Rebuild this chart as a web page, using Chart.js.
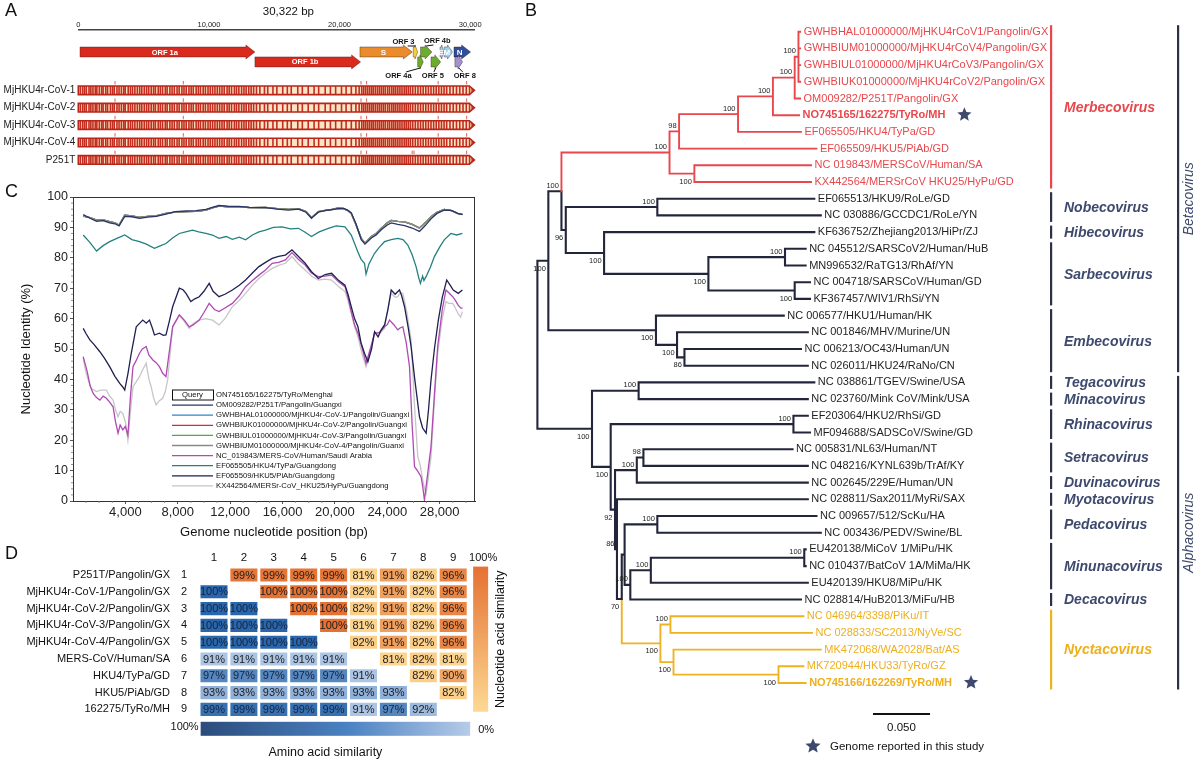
<!DOCTYPE html>
<html lang="en"><head><meta charset="utf-8"><title>Figure</title>
<script src="https://cdn.jsdelivr.net/npm/chart.js@4.4.1/dist/chart.umd.min.js"></script>
<style>
html,body{margin:0;padding:0;background:#fff;}
#wrap{position:relative;width:1200px;height:762px;overflow:hidden;background:#fff;}
canvas{position:absolute;}
</style></head>
<body>
<div id="wrap">
<canvas id="cA" width="520" height="175" style="left:0;top:0"></canvas>
<canvas id="cC" width="520" height="365" style="left:0;top:180px"></canvas>
<canvas id="cD" width="520" height="217" style="left:0;top:545px"></canvas>
<canvas id="cB" width="680" height="762" style="left:520px;top:0"></canvas>
</div>
<script>
const FONT = '"Liberation Sans", Arial, Helvetica, sans-serif';

/* ================= PANEL A DATA ================= */
const genomeLength = 30322;
const rulerTicks = [0, 10000, 20000, 30000];
const geneNames  = ['ORF 1a','ORF 1b','S','ORF 3','ORF 4a','ORF 4b','ORF 5','E','M','N','ORF 8'];
const geneStart  = [130, 13520, 21560, 25640, 25980, 26200, 27000, 27690, 28010, 28760, 28830];
const geneEnd    = [13520, 21610, 25570, 25980, 26410, 27070, 27740, 27990, 28650, 30030, 29420];
const geneLane   = [1, 1.57, 1, 1, 1.57, 1, 1.57, 1, 1, 1, 1.57];
const geneColors = ['#d92a1d','#d92a1d','#ea8b2c','#f5d03a','#6cad2f','#6cad2f','#6cad2f','#9dd2ee','#9dd2ee','#2f4e9e','#a191cf'];
const genomeNames = ['MjHKU4r-CoV-1','MjHKU4r-CoV-2','MjHKU4r-CoV-3','MjHKU4r-CoV-4','P251T'];
const genomeLane  = [3.2, 4.2, 5.2, 6.2, 7.2];
const markerSites = [2810, 8040, 21640, 22070, 27550, 29730];
const p251tExtraMarkers = [25560, 25700];
const variantSites = [150,330,470,610,820,960,1120,1300,1420,1610,1790,1900,2100,2240,2460,2620,2750,2960,3120,3300,3480,3590,3820,3990,4150,4330,4520,4700,4860,5050,5230,5390,5580,5760,5900,6120,6280,6450,6660,6800,7010,7180,7350,7560,7720,7930,8090,8260,8470,8640,8800,9020,9190,9350,9560,9730,9930,10100,10280,10460,10640,10820,11000,11170,11390,11550,11730,11950,12110,12290,12500,12680,12850,13050,13230,13420,13640,13900,14250,14500,14900,15200,15650,16000,16300,16800,17150,17600,18050,18400,18900,19300,19700,20150,20500,20900,21250,21500,21700,21850,22000,22150,22300,22450,22580,22740,22900,23050,23200,23350,23500,23680,23830,24000,24150,24300,24460,24620,24780,24950,25100,25260,25420,25600,25800,26000,26200,26400,26600,26800,27000,27200,27400,27600,27800,28000,28200,28450,28700,28950,29200,29450,29700,29950,30150];

/* ================= PANEL C DATA ================= */
const mjhku4rPts = [[780,93.7],[1300,93.2],[1800,92.4],[2300,92.5],[2800,91.9],[3200,91.5],[3520,90.8],[3950,94],[4500,93.8],[5080,93.3],[5700,93.6],[6350,93.8],[7100,94.6],[7800,95],[8630,95.2],[9400,95.3],[10150,95.7],[10700,96.5],[11150,97],[11900,96.8],[12670,96.8],[13500,96.5],[14700,96.6],[15600,96.2],[16460,95.9],[17220,96.2],[17800,95.2],[18210,93.2],[18740,95.2],[19250,95.6],[19750,95.9],[20200,96.3],[20640,96.2],[21000,95.5],[21250,94.6],[21600,91],[22010,86.4],[22300,84.8],[22780,87],[23150,88],[23540,89.7],[24000,91.5],[24300,92.3],[24800,92],[25320,91.8],[25900,91],[26460,89.8],[26900,91.5],[27340,93.5],[27800,95],[28350,95.9],[28900,95.5],[29400,94.5],[29740,94.3]];
const p251tPts = [[780,94.2],[1300,93.0],[1800,92.0],[2300,92.2],[2800,91.5],[3200,91.2],[3520,90.5],[3950,93.6],[4500,93.5],[5080,93.0],[5700,93.4],[6350,93.6],[7100,94.4],[7800,95.2],[8630,95.4],[9400,95.5],[10150,95.9],[10700,96.7],[11150,97.2],[11900,96.9],[12670,96.9],[13500,96.6],[14700,96.5],[15600,96.0],[16460,95.7],[17220,96.0],[17800,95.0],[18210,93.0],[18740,95.0],[19250,95.5],[19750,95.8],[20200,96.2],[20640,96.3],[21000,95.6],[21250,94.8],[21600,91.3],[22010,86.0],[22300,84.5],[22780,86.5],[23150,87.5],[23540,89.2],[24000,90.8],[24300,91.5],[24800,91.0],[25320,90.6],[25900,89.8],[26460,88.7],[26900,90.6],[27340,92.8],[27800,94.6],[28350,95.7],[28900,95.6],[29400,94.6],[29740,94.2]];
const hku4Pts = [[780,87.5],[1300,85],[1800,82.2],[2300,84],[2800,85.3],[3400,86.5],[3950,87.5],[4500,86],[5080,85.3],[5600,84.5],[6220,83.1],[6700,84],[7100,84.7],[7600,86.5],[8120,88],[8600,88.5],[9130,89.1],[9600,88.5],[10150,88],[10650,87.5],[11150,86.4],[11700,87],[12170,86.1],[12700,86.8],[13180,85.9],[13700,87.5],[14200,88.5],[14700,89.1],[15300,90],[15960,90.2],[16600,89.5],[17220,89.7],[17700,88.5],[18210,87],[18800,88.5],[19500,89.7],[20100,90.5],[20770,90.2],[21250,87.5],[21750,82],[22000,79.5],[22260,78.2],[22380,74.6],[22600,78],[23030,81.5],[23400,83.5],[23790,85.3],[24300,86],[24800,86.4],[25200,86],[25570,84.2],[25900,81],[26200,77.1],[26400,73.5],[26530,71.6],[26700,74],[26800,72.5],[26960,73.8],[27300,77],[27600,80.4],[28000,83.5],[28350,85.9],[28860,88],[29300,87.5],[29740,88]];
const hku5Pts = [[780,56.8],[1000,55],[1290,53],[1600,51.5],[2050,49.1],[2400,47],[2800,44.2],[3200,41],[3570,38.7],[3800,37.5],[3950,36.5],[4200,42],[4450,48.6],[4830,57.3],[5100,58.5],[5330,59.5],[5600,58.5],[5840,59.5],[6050,57],[6220,54.6],[6600,55.2],[6900,54.5],[7100,54.6],[7350,59],[7610,63.9],[8120,70],[8400,69.5],[8630,68.3],[9000,65.6],[9300,66.5],[9640,67.2],[10000,69],[10400,71.6],[10700,69],[11150,67.2],[11600,68],[12170,69.4],[12700,71],[13180,72.7],[13700,75],[14200,77.1],[14700,78.5],[15210,79.8],[15700,80.5],[16220,80.9],[16720,82.6],[17200,80.5],[17730,78.2],[18200,75.5],[18740,73.2],[19250,74.5],[19750,74.9],[20300,72.5],[20770,71],[21000,68],[21250,63.9],[21500,60],[21760,57.3],[22000,52],[22260,48.6],[22520,45.8],[22800,50],[23030,55.7],[23300,54],[23540,56.3],[23800,58],[24040,62.8],[24300,69.4],[24600,68],[24930,69.4],[25100,67.5],[25320,63.9],[25600,57],[25820,50.8],[26100,40],[26460,27.7],[26700,24],[26970,22.3],[27150,30],[27340,39.8],[27600,50],[27900,59.5],[28200,67],[28540,72.7],[28800,71],[29040,69.4],[29420,68.3],[29740,69.4]];
const mersPts = [[780,47.5],[1090,42.5],[1300,38],[1540,35.4],[1800,34],[2050,33.2],[2300,34.5],[2550,33.8],[2800,32.5],[3060,31],[3250,26],[3440,22.3],[3600,25],[3800,23.4],[4000,24.5],[4190,21.7],[4400,35],[4580,44.2],[4800,46],[5080,48.6],[5300,50],[5590,50.8],[5800,48],[6100,46.4],[6350,45.5],[6600,44.2],[6850,42],[7100,40.9],[7350,49],[7610,57.3],[8120,61.2],[8500,59.5],[8880,57.3],[9200,58],[9640,59.5],[10000,62],[10400,65],[10800,63],[11150,62.3],[11600,63.5],[12170,65],[12700,67.5],[13180,70.5],[13700,72.5],[14200,74.3],[14700,76],[15210,78.2],[15700,78.5],[16220,79.3],[16720,81.7],[17200,79.5],[17730,77.6],[18200,75],[18740,73.8],[19250,74],[19750,74.3],[20300,72],[20770,70.5],[21000,67],[21250,62.3],[21500,58],[21760,55.2],[22100,50],[22380,45.3],[22700,50],[23030,55.2],[23400,55.5],[23790,57.3],[24000,58],[24170,59.5],[24500,58],[24800,56.3],[25000,57],[25190,57.3],[25450,52],[25700,44.2],[25900,25],[26080,11.3],[26300,10],[26580,8],[26700,5],[26840,0.3],[27000,6],[27340,17.9],[27600,35],[27850,50.8],[28200,63],[28480,69.4],[28700,68.5],[29000,67.2],[29200,66],[29400,64.5],[29600,63.5],[29740,63.4]];
const hku25Pts = [[780,47],[950,43],[1160,39.8],[1400,37],[1800,36],[2100,36.5],[2550,36.5],[2800,34.5],[3060,33.2],[3250,30],[3440,27.7],[3600,29.5],[3800,28.8],[4000,26],[4190,20],[4400,30],[4580,37.6],[4800,39],[5080,40.9],[5300,43],[5590,45.3],[5800,40],[5970,37.6],[6150,34],[6350,31.6],[6600,33],[6850,33.8],[7050,36],[7230,39.8],[7450,50],[7610,57.3],[8120,61.2],[8500,59],[8880,56.8],[9200,58.5],[9640,59.5],[10100,60],[10650,59.5],[11150,57.9],[11600,60],[12170,63.9],[12700,66],[13180,68.3],[13700,71],[14200,73.2],[14700,75],[15210,76.5],[15700,77.5],[16220,78.2],[16720,80.4],[17200,78],[17730,76],[18200,74],[18740,72.7],[19250,73],[19750,72.7],[20300,70.5],[20770,68.9],[21000,66],[21250,61.7],[21500,57.5],[21760,54],[22100,48],[22380,44.2],[22700,49],[23030,55.2],[23400,55],[23790,56.8],[24000,62],[24300,68.3],[24600,67],[24800,67.2],[25000,68.5],[25190,68.3],[25500,62],[25820,53],[26100,30],[26330,14.6],[26500,12],[26710,6.9],[26850,4],[26970,2.5],[27150,8],[27340,14.6],[27600,33],[27850,48.6],[28200,60],[28480,65.6],[28700,65],[29000,65],[29200,63.5],[29400,61.7],[29600,60.5],[29740,62.3]];
const yTicksC = [0,10,20,30,40,50,60,70,80,90,100];
const xTicksC = [4000,8000,12000,16000,20000,24000,28000];

/* ================= PANEL D DATA ================= */
const matrixRowNames = ['P251T/Pangolin/GX','MjHKU4r-CoV-1/Pangolin/GX','MjHKU4r-CoV-2/Pangolin/GX','MjHKU4r-CoV-3/Pangolin/GX','MjHKU4r-CoV-4/Pangolin/GX','MERS-CoV/Human/SA','HKU4/TyPa/GD','HKU5/PiAb/GD','162275/TyRo/MH'];
const matrixIndex = ['1','2','3','4','5','6','7','8','9'];
// upper triangle: nucleotide similarity; lower triangle: amino acid similarity
const similarity = [
  [null,99,99,99,99,81,91,82,96],
  [100,null,100,100,100,82,91,82,96],
  [100,100,null,100,100,82,91,82,96],
  [100,100,100,null,100,81,91,82,96],
  [100,100,100,100,null,82,91,82,96],
  [91,91,91,91,91,null,81,82,81],
  [97,97,97,97,97,91,null,82,90],
  [93,93,93,93,93,93,93,null,82],
  [99,99,99,99,99,91,97,92,null]
];

/* ================= PANEL B DATA ================= */
const leafNames = ['GWHBHAL01000000/MjHKU4rCoV1/Pangolin/GX','GWHBIUM01000000/MjHKU4rCoV4/Pangolin/GX','GWHBIUL01000000/MjHKU4rCoV3/Pangolin/GX','GWHBIUK01000000/MjHKU4rCoV2/Pangolin/GX','OM009282/P251T/Pangolin/GX','NO745165/162275/TyRo/MH','EF065505/HKU4/TyPa/GD','EF065509/HKU5/PiAb/GD','NC 019843/MERSCoV/Human/SA','KX442564/MERSrCoV HKU25/HyPu/GD',
 'EF065513/HKU9/RoLe/GD','NC 030886/GCCDC1/RoLe/YN','KF636752/Zhejiang2013/HiPr/ZJ','NC 045512/SARSCoV2/Human/HuB','MN996532/RaTG13/RhAf/YN','NC 004718/SARSCoV/Human/GD','KF367457/WIV1/RhSi/YN','NC 006577/HKU1/Human/HK','NC 001846/MHV/Murine/UN','NC 006213/OC43/Human/UN','NC 026011/HKU24/RaNo/CN',
 'NC 038861/TGEV/Swine/USA','NC 023760/Mink CoV/Mink/USA','EF203064/HKU2/RhSi/GD','MF094688/SADSCoV/Swine/GD','NC 005831/NL63/Human/NT','NC 048216/KYNL639b/TrAf/KY','NC 002645/229E/Human/UN','NC 028811/Sax2011/MyRi/SAX','NC 009657/512/ScKu/HA','NC 003436/PEDV/Swine/BL','EU420138/MiCoV 1/MiPu/HK','NC 010437/BatCoV 1A/MiMa/HK','EU420139/HKU8/MiPu/HK','NC 028814/HuB2013/MiFu/HB',
 'NC 046964/3398/PiKu/IT','NC 028833/SC2013/NyVe/SC','MK472068/WA2028/Bat/AS','MK720944/HKU33/TyRo/GZ','NO745166/162269/TyRo/MH'];
const leafDepth = [0.2305,0.2305,0.2305,0.2305,0.2304,0.2295,0.2312,0.2448,0.2400,0.2400,0.2429,0.2486,0.2429,0.2353,0.2353,0.2391,0.2391,0.2161,0.2372,0.2312,0.2372,0.2429,0.2372,0.2372,0.2391,0.2238,0.2372,0.2372,0.2372,0.2448,0.2486,0.2353,0.2353,0.2372,0.2312,0.2333,0.2409,0.2486,0.2333,0.2353];
const leafGroup = ['r','r','r','r','r','r','r','r','r','r','k','k','k','k','k','k','k','k','k','k','k','k','k','k','k','k','k','k','k','k','k','k','k','k','k','y','y','y','y','y'];
const leafParent = ['A','A','A','A','B','C','D','E','F','F','I','I','K','M','M','N','N','O','P','Q','Q','T','T','W','W','Y','Y','Z','AH','AE','AE','X','X','AC','AD','NA','NA','NB2','NB','NB'];
const studyLeaves = [5, 39];
const nodeIds      = ['S','R','H','G','E','D','C','B','A','F','J','I','K','L','M','N','O','P','Q','U','T','V','W','AG','Z','Y','AH','AI','AF','AE','AD','AC','X','NC','NA','NB2','NB'];
const nodeParent   = [null,'S','R','H','G','E','D','C','B','G','H','J','J','K','L','L','R','O','P','S','U','U','V','V','AG','Z','AG','AH','AI','AF','AF','AD','AC','AI','NC','NC','NB2'];
const nodeDepth    = [0,0.0096,0.0211,0.1159,0.1243,0.176,0.2066,0.2257,0.229,0.1377,0.0249,0.1052,0.0585,0.15,0.2172,0.2257,0.104,0.1225,0.129,0.0479,0.0888,0.0643,0.2246,0.0681,0.0872,0.093,0.0698,0.074,0.0765,0.1052,0.0815,0.0995,0.2341,0.1079,0.1167,0.1194,0.2115];
const nodeSupport  = [null,100,100,100,98,100,100,100,100,100,96,100,100,100,100,100,100,100,86,100,100,100,100,92,100,98,86,70,null,100,100,100,100,100,100,100,100];
const nodeSupportPos=[null,'b','a','a','a','a','a','a','a','b','b','a','b','b','a','b','b','b','b','b','a','b','a','b','a','a','a','b',null,'a','a','a','a','b','a','b','b'];
const cladeNames = ['Merbecovirus','Nobecovirus','Hibecovirus','Sarbecovirus','Embecovirus','Tegacovirus','Minacovirus','Rhinacovirus','Setracovirus','Duvinacovirus','Myotacovirus','Pedacovirus','Minunacovirus','Decacovirus','Nyctacovirus'];
const cladeFirst = [0,10,12,13,17,21,22,23,25,27,28,29,31,34,35];
const cladeLast  = [9,11,12,16,20,21,22,24,26,27,28,30,33,34,39];
const cladeGroup = ['r','k','k','k','k','k','k','k','k','k','k','k','k','k','y'];
const genusNames = ['Betacovirus','Alphacovirus'];
const genusFirst = [0, 21];
const genusLast  = [20, 39];
const scaleBarLength = 0.05;

/* ================= STYLE ================= */
const TREE_COL = {r:'#e8474c', k:'#23263a', y:'#efb322'};
const TEXT_COL = {r:'#e8474c', k:'#1f1f1f', y:'#eeaf1c'};
const CLADE_COL = {r:'#e8474c', k:'#3e4a6d', y:'#eeaf1c'};
const SLATE = '#3e4a6d';

Chart.defaults.font.family = FONT;
Chart.defaults.color = '#222';
Chart.defaults.animation = false;
Chart.defaults.plugins.legend.display = false;
Chart.defaults.plugins.tooltip.enabled = false;

function panelLetter(ctx, t, x, y){
  ctx.save(); ctx.font = '18px ' + FONT; ctx.fillStyle = '#111'; ctx.textAlign='left'; ctx.textBaseline='top';
  ctx.fillText(t, x, y); ctx.restore();
}
function star(ctx, cx, cy, r, color){
  ctx.save(); ctx.beginPath();
  for(let k=0;k<10;k++){
    const ang = -Math.PI/2 + k*Math.PI/5;
    const rr = k%2===0 ? r : r*0.45;
    const px = cx + rr*Math.cos(ang), py = cy + rr*Math.sin(ang);
    if(k===0) ctx.moveTo(px,py); else ctx.lineTo(px,py);
  }
  ctx.closePath(); ctx.fillStyle=color; ctx.fill(); ctx.restore();
}
function mix(c1, c2, t){
  t = Math.max(0, Math.min(1, t));
  return 'rgb(' + c1.map((v,i)=>Math.round(v + (c2[i]-v)*t)).join(',') + ')';
}

/* ================= PANEL A CHART ================= */
const calloutOffsets = {'ORF 3':[-12,-10], 'ORF 4b':[11,-11], 'ORF 4a':[-22,14], 'ORF 5':[-3,14], 'ORF 8':[6,14]};
const insideLabels = ['ORF 1a','ORF 1b','S','E','M','N'];
const panelAPlugin = {
  id:'panelA',
  afterDraw(chart){
    const {ctx, scales:{x, y}} = chart;
    panelLetter(ctx, 'A', 5, 2);
    ctx.save();
    ctx.font = '11.5px ' + FONT; ctx.fillStyle='#111'; ctx.textAlign='center'; ctx.textBaseline='middle';
    ctx.fillText(genomeLength.toLocaleString('en-US') + ' bp', (x.getPixelForValue(0)+x.getPixelForValue(genomeLength))/2 + 12, 12);
    geneNames.forEach((g, i)=>{
      const x0 = x.getPixelForValue(geneStart[i]), x1 = x.getPixelForValue(geneEnd[i]);
      const yc = y.getPixelForValue(geneLane[i]);
      const len = x1 - x0, head = Math.min(9, len*0.6), bh = 5, hh = 7;
      ctx.beginPath();
      ctx.moveTo(x0, yc-bh); ctx.lineTo(x1-head, yc-bh); ctx.lineTo(x1-head, yc-hh); ctx.lineTo(x1, yc);
      ctx.lineTo(x1-head, yc+hh); ctx.lineTo(x1-head, yc+bh); ctx.lineTo(x0, yc+bh); ctx.closePath();
      ctx.fillStyle = geneColors[i]; ctx.fill();
      ctx.lineWidth = 0.7; ctx.strokeStyle = 'rgba(60,20,10,0.55)'; ctx.stroke();
      if(insideLabels.includes(g)){
        ctx.font = 'bold ' + (g.length>1?7.5:8) + 'px ' + FONT; ctx.fillStyle = '#fff'; ctx.textAlign='center'; ctx.textBaseline='middle';
        ctx.fillText(g, x0 + (len-head*0.6)/2, yc+0.5);
      } else if(calloutOffsets[g]){
        const [dx, dy] = calloutOffsets[g];
        const gx = (x0+x1)/2, tx = gx + dx, ty = yc + dy;
        ctx.font = 'bold 7.5px ' + FONT; ctx.fillStyle = '#111'; ctx.textAlign='center'; ctx.textBaseline='middle';
        ctx.fillText(g, tx, ty);
        ctx.beginPath(); ctx.lineWidth = 1; ctx.strokeStyle = '#111';
        const sgn = dy < 0 ? 1 : -1;
        ctx.moveTo(tx + (gx-tx)*0.35, ty + sgn*4); ctx.lineTo(gx, yc - sgn*6); ctx.stroke();
      }
    });
    genomeNames.forEach((nm, r)=>{
      const yc = y.getPixelForValue(genomeLane[r]);
      const x0 = x.getPixelForValue(0), x1 = x.getPixelForValue(genomeLength);
      ctx.font = '10px ' + FONT; ctx.fillStyle = '#222'; ctx.textAlign='right'; ctx.textBaseline='middle';
      ctx.fillText(nm, x0 - 3, yc);
      const h = 4.3, tip = 5;
      ctx.beginPath();
      ctx.moveTo(x0, yc-h); ctx.lineTo(x1-tip, yc-h); ctx.lineTo(x1, yc); ctx.lineTo(x1-tip, yc+h); ctx.lineTo(x0, yc+h); ctx.closePath();
      ctx.fillStyle = '#fbe5c6'; ctx.fill();
      ctx.save(); ctx.clip();
      ctx.fillStyle = '#c22f20';
      variantSites.forEach(s=>{ ctx.fillRect(x.getPixelForValue(s)-0.8, yc-h, 1.6, 2*h); });
      ctx.restore();
      ctx.lineWidth = 1.6; ctx.strokeStyle = '#b8261a'; ctx.stroke();
      const marks = r === genomeNames.length-1 ? markerSites.concat(p251tExtraMarkers) : markerSites;
      ctx.strokeStyle = '#d2675a'; ctx.lineWidth = 1;
      marks.forEach(s=>{ const px = x.getPixelForValue(s); ctx.beginPath(); ctx.moveTo(px, yc-h-5); ctx.lineTo(px, yc-h-1.5); ctx.stroke(); });
    });
    ctx.restore();
  }
};
new Chart(document.getElementById('cA'), {
  type:'bar',
  data:{datasets:[]},
  options:{
    responsive:false, maintainAspectRatio:false, animation:false,
    layout:{padding:{left:78.3, right:45.6, top:0, bottom:0}},
    scales:{
      x:{type:'linear', position:'top', min:0, max:genomeLength, offset:false,
         afterBuildTicks: s => { s.ticks = rulerTicks.map(v=>({value:v})); },
         afterFit: s => { s.height = 30; },
         ticks:{font:{size:7.5}, color:'#222', padding:1, maxRotation:0, callback: v => Number(v).toLocaleString('en-US')},
         grid:{display:true, offset:false, drawOnChartArea:false, drawTicks:false, color:'#444'},
         border:{display:true, color:'#444', width:1.5}},
      y:{type:'linear', display:false, offset:false, min:-0.264, max:8.069, reverse:true}
    }
  },
  plugins:[panelAPlugin]
});

/* ================= PANEL C CHART ================= */
const seriesC = [
  {label:'OM009282/P251T/Pangolin/Guangxi', pts:p251tPts, color:'#2b3466', order:5},
  {label:'GWHBHAL01000000/MjHKU4r-CoV-1/Pangolin/Guangxi', pts:mjhku4rPts, color:'#2f86c4', order:9},
  {label:'GWHBIUK01000000/MjHKU4r-CoV-2/Pangolin/Guangxi', pts:mjhku4rPts, color:'#e0262a', order:8},
  {label:'GWHBIUL01000000/MjHKU4r-CoV-3/Pangolin/Guangxi', pts:mjhku4rPts, color:'#48b043', order:7},
  {label:'GWHBIUM01000000/MjHKU4r-CoV-4/Pangolin/Guanxi', pts:mjhku4rPts, color:'#8a8a8e', order:6},
  {label:'NC_019843/MERS-CoV/Human/Saudi Arabia', pts:mersPts, color:'#b04ab3', order:3},
  {label:'EF065505/HKU4/TyPa/Guangdong', pts:hku4Pts, color:'#23807f', order:2},
  {label:'EF065509/HKU5/PiAb/Guangdong', pts:hku5Pts, color:'#1f1f52', order:1},
  {label:'KX442564/MERSr-CoV_HKU25/HyPu/Guangdong', pts:hku25Pts, color:'#c6c6c6', order:4}
];
const queryLabel = 'ON745165/162275/TyRo/Menghai';
const panelCPlugin = {
  id:'panelC',
  afterDraw(chart){
    const {ctx, chartArea:ca, scales:{x, y}} = chart;
    panelLetter(ctx, 'C', 5, 3);
    ctx.save();
    ctx.strokeStyle = '#333'; ctx.lineWidth = 1;
    ctx.strokeRect(ca.left+0.5, ca.top+0.5, ca.width-1, ca.height);
    ctx.strokeStyle = '#777'; ctx.lineWidth = 0.8;
    for(let v=2; v<100; v+=2){ if(v%10===0) continue; const py = y.getPixelForValue(v); ctx.beginPath(); ctx.moveTo(ca.left, py); ctx.lineTo(ca.left-2, py); ctx.stroke(); }
    for(let v=1000; v<30700; v+=1000){ if(v%4000===0) continue; const px = x.getPixelForValue(v); ctx.beginPath(); ctx.moveTo(px, ca.bottom); ctx.lineTo(px, ca.bottom+2); ctx.stroke(); }
    const lx0 = ca.left + 99, lx1 = ca.left + 140, tx = ca.left + 143, y0 = ca.top + 198, dy = 10.1;
    ctx.font = '7.7px ' + FONT; ctx.textBaseline = 'middle';
    ctx.strokeStyle = '#111'; ctx.lineWidth = 1;
    ctx.strokeRect(lx0+0.5, y0-5, lx1-lx0, 10);
    ctx.fillStyle = '#111'; ctx.textAlign = 'center'; ctx.fillText('Query', (lx0+lx1)/2, y0);
    ctx.textAlign = 'left'; ctx.fillText(queryLabel, tx, y0);
    seriesC.forEach((s, i)=>{
      const yy = y0 + dy*(i+1);
      ctx.strokeStyle = s.color; ctx.lineWidth = 1.3;
      ctx.beginPath(); ctx.moveTo(lx0, yy); ctx.lineTo(lx1, yy); ctx.stroke();
      ctx.fillStyle = '#111'; ctx.fillText(s.label, tx, yy);
    });
    ctx.restore();
  }
};
new Chart(document.getElementById('cC'), {
  type:'line',
  data:{datasets: seriesC.map(s => ({
    label:s.label, data:s.pts.map(p=>({x:p[0], y:p[1]})), borderColor:s.color, backgroundColor:s.color,
    borderWidth:1.3, pointRadius:0, tension:0, fill:false, order:s.order
  }))},
  options:{
    responsive:false, maintainAspectRatio:false, animation:false,
    layout:{padding:{left:0, right:45, top:17, bottom:0}},
    scales:{
      x:{type:'linear', min:0, max:30700,
         afterFit: s => { s.height = 44; },
         afterBuildTicks: s => { s.ticks = xTicksC.map(v=>({value:v})); },
         ticks:{font:{size:13}, color:'#222', padding:1, maxRotation:0, autoSkip:false,
                callback: v => Number(v).toLocaleString('en-US')},
         grid:{display:true, drawOnChartArea:false, drawTicks:true, tickLength:3, color:'#555'},
         border:{display:true, color:'#333', width:1},
         title:{display:true, text:'Genome nucleotide position (bp)', font:{size:13}, color:'#111', padding:{top:0, bottom:5}}},
      y:{type:'linear', min:0, max:100,
         afterFit: s => { s.width = 73; },
         afterBuildTicks: s => { s.ticks = yTicksC.map(v=>({value:v})); },
         ticks:{font:{size:12.5}, color:'#222', padding:2},
         grid:{display:true, drawOnChartArea:false, drawTicks:true, tickLength:3, color:'#555'},
         border:{display:true, color:'#333', width:1},
         title:{display:true, text:'Nucleotide Identity (%)', font:{size:13}, color:'#111', padding:{top:19, bottom:0}}}
    }
  },
  plugins:[panelCPlugin]
});

/* ================= PANEL D CHART ================= */
const ORANGE_LO = [253,217,147], ORANGE_HI = [229,113,50];
const BLUE_LO = [186,208,235], BLUE_HI = [42,102,171];
function cellColor(i, j){
  const v = similarity[i][j];
  if(v == null) return 'rgba(0,0,0,0)';
  return j > i ? mix(ORANGE_LO, ORANGE_HI, (v-80)/20) : mix(BLUE_LO, BLUE_HI, (v-90)/10);
}
const panelDPlugin = {
  id:'panelD',
  afterDraw(chart){
    const {ctx, chartArea:ca, scales:{x, y}} = chart;
    panelLetter(ctx, 'D', 5, 0);
    ctx.save();
    ctx.font = '11.5px ' + FONT; ctx.fillStyle = '#111'; ctx.textAlign='center'; ctx.textBaseline='middle';
    matrixIndex.forEach((t, j)=> ctx.fillText(t, x.getPixelForValue(j+1), ca.top - 9));
    matrixRowNames.forEach((nm, i)=>{
      const yy = y.getPixelForValue(i);
      ctx.font = '11px ' + FONT; ctx.textAlign='right'; ctx.fillStyle='#111';
      ctx.fillText(nm, ca.left - 29, yy);
      ctx.textAlign='center'; ctx.fillText(matrixIndex[i], ca.left - 15, yy);
    });
    ctx.font = '11px ' + FONT; ctx.textAlign='center';
    chart.data.datasets.forEach((ds, j)=>{
      const meta = chart.getDatasetMeta(j);
      meta.data.forEach((el, i)=>{
        const v = similarity[i][j];
        if(v == null) return;
        ctx.fillStyle = j < i && v >= 97 ? '#15233d' : '#1c1c1c';
        ctx.fillText(v + '%', (el.x + el.base)/2, el.y + 0.5);
      });
    });
    const ox = ca.right + 5, oy0 = ca.top, oy1 = ca.bottom - 6;
    let g = ctx.createLinearGradient(0, oy0, 0, oy1);
    g.addColorStop(0, mix(ORANGE_LO, ORANGE_HI, 1)); g.addColorStop(1, mix(ORANGE_LO, ORANGE_HI, 0));
    ctx.fillStyle = g; ctx.fillRect(ox, oy0, 15, oy1-oy0);
    ctx.fillStyle = '#111'; ctx.font = '11px ' + FONT; ctx.textAlign='center';
    ctx.fillText('100%', ox + 10, ca.top - 9);
    ctx.save(); ctx.translate(ox + 27, (oy0+oy1)/2); ctx.rotate(-Math.PI/2);
    ctx.font = '12.5px ' + FONT; ctx.fillText('Nucleotide acid similarity', 0, 0); ctx.restore();
    const bx0 = ca.left + 1.6, bx1 = ca.right + 2, by = ca.bottom + 4;
    g = ctx.createLinearGradient(bx0, 0, bx1, 0);
    g.addColorStop(0, '#2b4c7c'); g.addColorStop(0.55, '#4b82c2'); g.addColorStop(1, '#b6cbe8');
    ctx.fillStyle = g; ctx.fillRect(bx0, by, bx1-bx0, 14);
    ctx.fillStyle = '#111'; ctx.font = '11px ' + FONT;
    ctx.textAlign='right'; ctx.fillText('100%', bx0 - 2, by + 5);
    ctx.textAlign='left'; ctx.fillText('0%', bx1 + 8, by + 8);
    ctx.textAlign='center'; ctx.font = '12.5px ' + FONT;
    ctx.fillText('Amino acid similarity', (bx0+bx1)/2 - 10, by + 31);
    ctx.restore();
  }
};
new Chart(document.getElementById('cD'), {
  type:'bar',
  data:{
    labels: matrixIndex,
    datasets: matrixIndex.map((c, j)=>({
      data: similarity.map(row => row[j] == null ? null : [j+1-0.452, j+1+0.452]),
      backgroundColor: similarity.map((row, i) => cellColor(i, j)),
      borderWidth:0, borderSkipped:false, grouped:false,
      barPercentage:0.78, categoryPercentage:1
    }))
  },
  options:{
    indexAxis:'y', responsive:false, maintainAspectRatio:false, animation:false,
    layout:{padding:{left:199.05, right:51.85, top:21.6, bottom:44.2}},
    scales:{
      x:{type:'linear', display:false, min:0.5, max:9.5},
      y:{type:'category', display:false}
    }
  },
  plugins:[panelDPlugin]
});

/* ================= PANEL B CHART ================= */
const nodeIndex = {}; nodeIds.forEach((id,k)=> nodeIndex[id]=k);
const children = {}; nodeIds.forEach(id => children[id] = []);
nodeIds.forEach((id,k)=>{ if(nodeParent[k]) children[nodeParent[k]].push({node:id}); });
leafParent.forEach((p,i)=> children[p].push({leaf:i}));
const nodeYCache = {};
function refY(ref){ return ref.leaf !== undefined ? ref.leaf : nodeY(ref.node); }
function refD(ref){ return ref.leaf !== undefined ? leafDepth[ref.leaf] : nodeDepth[nodeIndex[ref.node]]; }
function nodeY(id){
  if(nodeYCache[id] !== undefined) return nodeYCache[id];
  const ys = children[id].map(refY);
  return nodeYCache[id] = (Math.min(...ys) + Math.max(...ys))/2;
}
function refGroup(ref){
  if(ref.leaf !== undefined) return leafGroup[ref.leaf];
  const gs = [...new Set(children[ref.node].map(refGroup))];
  return gs.length === 1 ? gs[0] : 'k';
}
const segs = {r:[], k:[], y:[]};
nodeIds.forEach(id=>{
  const pd = nodeDepth[nodeIndex[id]], py = nodeY(id);
  children[id].forEach(ch=>{
    const g = refGroup(ch), cy = refY(ch), cd = refD(ch);
    segs[g].push({x:pd, y:py}, {x:pd, y:cy}, {x:cd, y:cy}, {x:cd, y:null});
  });
});
const panelBPlugin = {
  id:'panelB',
  afterDraw(chart){
    const {ctx, chartArea:ca, scales:{x, y}} = chart;
    panelLetter(ctx, 'B', 5, 2);
    ctx.save();
    ctx.textBaseline = 'middle';
    leafNames.forEach((nm, i)=>{
      const bold = studyLeaves.includes(i);
      ctx.font = (bold ? 'bold ' : '') + '11px ' + FONT;
      ctx.fillStyle = TEXT_COL[leafGroup[i]]; ctx.textAlign = 'left';
      const tx = x.getPixelForValue(leafDepth[i]) + 3.5, ty = y.getPixelForValue(i);
      ctx.fillText(nm, tx, ty);
      if(bold){ star(ctx, tx + ctx.measureText(nm).width + 19, ty - 0.5, 7.5, SLATE); }
    });
    ctx.font = '7.5px ' + FONT; ctx.fillStyle = '#222'; ctx.textAlign = 'right';
    nodeIds.forEach((id,k)=>{
      if(nodeSupport[k] == null) return;
      const px = x.getPixelForValue(nodeDepth[k]) - 2.5;
      const py = y.getPixelForValue(nodeY(id)) + (nodeSupportPos[k] === 'a' ? -5.5 : 8);
      ctx.fillText(String(nodeSupport[k]), px, py);
    });
    const cbx = ca.right - 150;
    cladeNames.forEach((nm, c)=>{
      const yt = y.getPixelForValue(cladeFirst[c]) - 6.5, yb = y.getPixelForValue(cladeLast[c]) + 6.5;
      ctx.fillStyle = cladeGroup[c] === 'k' ? '#2d3145' : TREE_COL[cladeGroup[c]];
      ctx.fillRect(cbx, yt, 2.2, yb - yt);
      ctx.font = 'italic bold 14px ' + FONT; ctx.fillStyle = CLADE_COL[cladeGroup[c]]; ctx.textAlign = 'left';
      ctx.fillText(nm, cbx + 14, (yt+yb)/2 + 1);
    });
    const gbx = ca.right - 23;
    genusNames.forEach((nm, gI)=>{
      const yt = y.getPixelForValue(genusFirst[gI]) - 6.5, yb = y.getPixelForValue(genusLast[gI]) + 6.5;
      ctx.fillStyle = '#2d3145'; ctx.fillRect(gbx, yt, 2.2, yb - yt);
      ctx.save(); ctx.translate(gbx + 12, (yt+yb)/2); ctx.rotate(-Math.PI/2);
      ctx.font = 'italic 14px ' + FONT; ctx.fillStyle = SLATE; ctx.textAlign = 'center';
      ctx.fillText(nm, 0, 0); ctx.restore();
    });
    const sx0 = x.getPixelForValue(0.2944), sx1 = x.getPixelForValue(0.2944 + scaleBarLength), sy = y.getPixelForValue(40.85);
    ctx.strokeStyle = '#111'; ctx.lineWidth = 2; ctx.beginPath(); ctx.moveTo(sx0, sy); ctx.lineTo(sx1, sy); ctx.stroke();
    ctx.font = '11.5px ' + FONT; ctx.fillStyle = '#111'; ctx.textAlign = 'center';
    ctx.fillText(scaleBarLength.toFixed(3), (sx0+sx1)/2, sy + 14);
    const ly = y.getPixelForValue(42.78);
    star(ctx, sx0 - 60, ly, 8, SLATE);
    ctx.textAlign = 'left'; ctx.fillStyle = '#111'; ctx.font = '11.5px ' + FONT;
    ctx.fillText('Genome reported in this study', sx0 - 43, ly + 1);
    ctx.restore();
  }
};
new Chart(document.getElementById('cB'), {
  type:'scatter',
  data:{datasets:['r','k','y'].map(g=>({
    data: segs[g], showLine:true, spanGaps:false, borderColor:TREE_COL[g], backgroundColor:TREE_COL[g],
    borderWidth: g==='k' ? 2.1 : 1.9, pointRadius:0, borderJoinStyle:'miter', borderCapStyle:'square', tension:0
  }))},
  options:{
    responsive:false, maintainAspectRatio:false, animation:false,
    layout:{padding:0},
    scales:{
      x:{type:'linear', display:false, min:-0.01526, max:0.58123},
      y:{type:'linear', display:false, min:-1.898, max:43.73, reverse:true}
    }
  },
  plugins:[panelBPlugin]
});
</script>
</body></html>
